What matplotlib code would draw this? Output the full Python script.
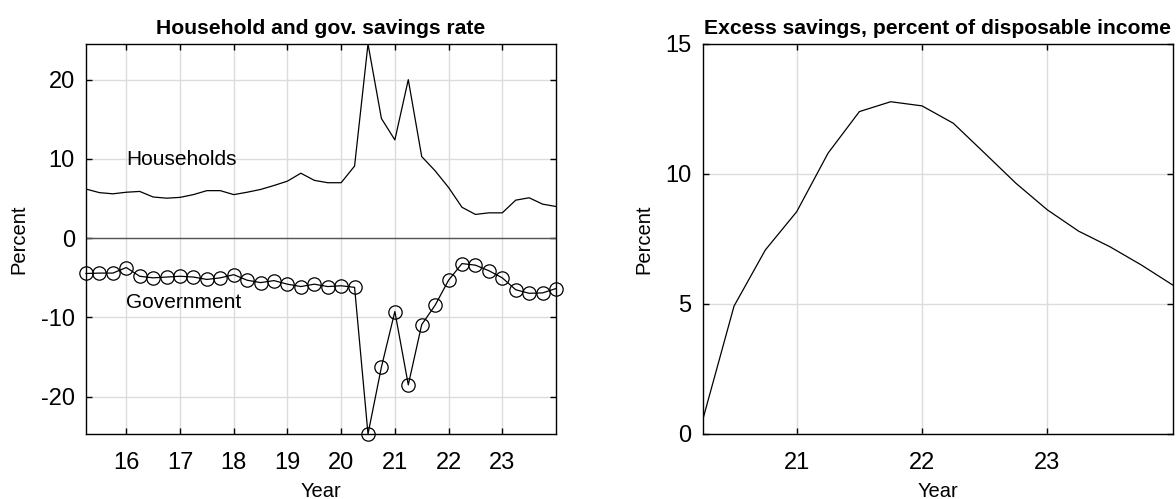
import numpy as np
import matplotlib
matplotlib.use("Agg")
import matplotlib.pyplot as plt

plt.rcParams["font.family"] = ["Liberation Sans", "DejaVu Sans"]

# quarterly data, year index (15.25 = 2015Q1 ... 24.0 = 2023Q4)
years_left = np.arange(15.25, 24.01, 0.25)
households = [6.2, 5.75, 5.6, 5.8, 5.9, 5.2, 5.05, 5.15, 5.5, 6.0, 6.0, 5.5,
              5.8, 6.15, 6.65, 7.2, 8.2, 7.3, 7.0, 7.0, 9.1, 24.5, 15.1, 12.4,
              20.0, 10.3, 8.5, 6.4, 3.9, 3.0, 3.2, 3.2, 4.8, 5.1, 4.3, 4.0]
government = [-4.45, -4.4, -4.4, -3.7, -4.8, -5.0, -4.9, -4.8, -4.9, -5.2, -5.0, -4.6,
              -5.3, -5.6, -5.35, -5.8, -6.1, -5.8, -6.1, -6.0, -6.2, -24.7, -16.25, -9.25,
              -18.5, -10.9, -8.45, -5.3, -3.2, -3.4, -4.1, -5.0, -6.5, -6.95, -6.9, -6.35]

years_right = np.arange(20.25, 24.01, 0.25)
excess = [0.54, 4.92, 7.08, 8.55, 10.8, 12.4, 12.78, 12.62, 11.95, 10.8,
          9.64, 8.62, 7.8, 7.2, 6.5, 5.73]

left_xticks = [16, 17, 18, 19, 20, 21, 22, 23]
left_yticks = [-20, -10, 0, 10, 20]
right_xticks = [21, 22, 23]
right_yticks = [0, 5, 10, 15]

W, H = 1176, 499


def style_axes(ax, ylab_px):
    ax.grid(True, color="#dcdcdc", linewidth=1.0)
    ax.set_axisbelow(True)
    ax.tick_params(direction="in", length=4.5, width=1, top=True, right=True,
                   labelsize=17)
    ax.tick_params(axis="x", pad=13)
    ax.tick_params(axis="y", pad=8)
    for s in ax.spines.values():
        s.set_linewidth(1.0)
        s.set_color("black")
    ax.set_xlabel("Year", fontsize=14.5, va="top")
    ax.set_ylabel("Percent", fontsize=14.5, va="center")
    ax.xaxis.set_label_coords(0.5, -(482 - 434) / 390)
    ax.yaxis.set_label_coords(ylab_px, 0.5)


fig = plt.figure(figsize=(W / 100, H / 100), dpi=100)
ax1 = fig.add_axes([86 / W, 1 - 434 / H, 470 / W, 390 / H])
ax2 = fig.add_axes([702.7 / W, 1 - 434 / H, 470 / W, 390 / H])

ax1.axhline(0, color="#555555", linewidth=1.0, zorder=1)
ax1.plot(years_left, households, color="black", linewidth=0.9, zorder=3)
ax1.plot(years_left, government, color="black", linewidth=0.9, marker="o",
         markersize=9.6, markerfacecolor="none", markeredgewidth=0.9,
         zorder=3, clip_on=False)
ax1.text(16, 9.9, "Households", fontsize=15, va="center", ha="left")
ax1.text(16, -8.1, "Government", fontsize=15, va="center", ha="left")
ax1.set_xlim(years_left[0], years_left[-1])
ax1.set_ylim(min(government), max(households))
ax1.set_xticks(left_xticks)
ax1.set_xticklabels([str(t) for t in left_xticks])
ax1.set_yticks(left_yticks)
ax1.set_yticklabels([str(t) for t in left_yticks])
ax1.set_title("Household and gov. savings rate", fontsize=15.2,
              fontweight="bold", pad=7.5)
style_axes(ax1, (19 - 86) / 470)

ax2.plot(years_right, excess, color="black", linewidth=0.9)
ax2.set_xlim(years_right[0], years_right[-1])
ax2.set_ylim(0, 15)
ax2.set_xticks(right_xticks)
ax2.set_xticklabels([str(t) for t in right_xticks])
ax2.set_yticks(right_yticks)
ax2.set_yticklabels([str(t) for t in right_yticks])
ax2.set_title("Excess savings, percent of disposable income", fontsize=15.2,
              fontweight="bold", pad=7.5)
style_axes(ax2, (644 - 702.7) / 470)

fig.savefig("out.png", dpi=100)
